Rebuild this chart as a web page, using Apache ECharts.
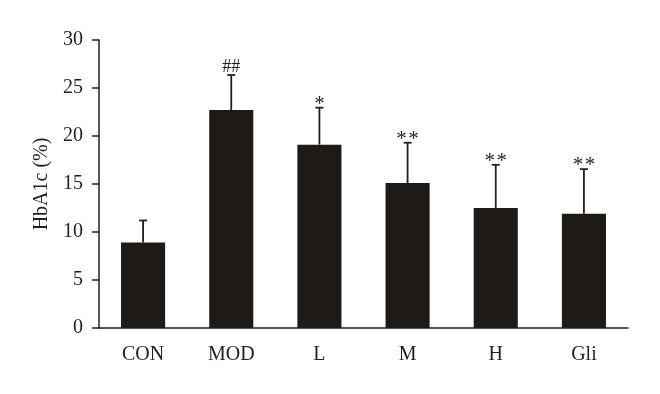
<!DOCTYPE html>
<html>
<head>
<meta charset="utf-8">
<script src="https://cdn.jsdelivr.net/npm/echarts@6/dist/echarts.min.js"></script>
<style>html,body{margin:0;padding:0;background:#fff}#c{width:660px;height:394px}</style>
</head>
<body>
<div id="c"></div>
<script>
var categories = ['CON', 'MOD', 'L', 'M', 'H', 'Gli'];
var means = [8.9, 22.7, 19.1, 15.1, 12.5, 11.9];
var errTops = [11.2, 26.35, 22.95, 19.3, 17.0, 16.55];
var marks = ['', '##', '*', '**', '**', '**'];
var yTicks = [0, 5, 10, 15, 20, 25, 30];

var ink = '#231f20';
var font = '"Liberation Serif", "Times New Roman", serif';

var errData = categories.map(function (c, i) { return [i, means[i], errTops[i], marks[i]]; });

var chart = echarts.init(document.getElementById('c'), null, {renderer: 'canvas'});
chart.setOption({
  animation: false,
  backgroundColor: '#fff',
  grid: {left: 99, right: 32, top: 40, bottom: 66},
  xAxis: {
    type: 'category',
    data: categories,
    axisLine: {lineStyle: {color: ink, width: 1.5}},
    axisTick: {length: 8, lineStyle: {color: ink, width: 1.5}},
    axisLabel: {color: ink, fontFamily: font, fontSize: 20, margin: 17}
  },
  yAxis: {
    type: 'value',
    min: yTicks[0],
    max: yTicks[yTicks.length - 1],
    interval: 5,
    name: 'HbA1c (%)',
    nameLocation: 'middle',
    nameGap: 47,
    nameRotate: 90,
    nameTextStyle: {color: ink, fontFamily: font, fontSize: 20},
    splitLine: {show: false},
    axisLine: {show: true, lineStyle: {color: ink, width: 1.5}},
    axisTick: {show: true, length: 7, lineStyle: {color: ink, width: 1.5}},
    axisLabel: {color: ink, fontFamily: font, fontSize: 20, margin: 16}
  },
  series: [
    {
      type: 'bar',
      data: means,
      barWidth: '50%',
      itemStyle: {color: '#1e1a17'},
      z: 2
    },
    {
      type: 'custom',
      data: errData,
      z: 3,
      renderItem: function (params, api) {
        var x = api.value(0);
        var top = api.coord([x, api.value(2)]);
        var base = api.coord([x, api.value(1)]);
        var cap = 4;
        var mark = String(api.value(3) || '');
        var star = mark.indexOf('*') >= 0;
        var style = {stroke: ink, lineWidth: 1.8};
        var children = [
          {type: 'line', shape: {x1: top[0], y1: base[1], x2: top[0], y2: top[1]}, style: style},
          {type: 'line', shape: {x1: top[0] - cap, y1: top[1], x2: top[0] + cap, y2: top[1]}, style: style}
        ];
        if (star) {
          var n = mark.length, gap = 12;
          for (var k = 0; k < n; k++) {
            children.push({type: 'text', style: {
              text: mark.charAt(k), x: top[0] + (k - (n - 1) / 2) * gap, y: top[1] + 7,
              textAlign: 'center', textVerticalAlign: 'bottom',
              fill: ink, font: '21px ' + font
            }});
          }
        } else if (mark) {
          children.push({type: 'text', style: {
            text: mark, x: top[0], y: top[1] + 1,
            textAlign: 'center', textVerticalAlign: 'bottom',
            fill: ink, font: '18px ' + font
          }});
        }
        return {type: 'group', children: children};
      }
    }
  ]
});
</script>
</body>
</html>
